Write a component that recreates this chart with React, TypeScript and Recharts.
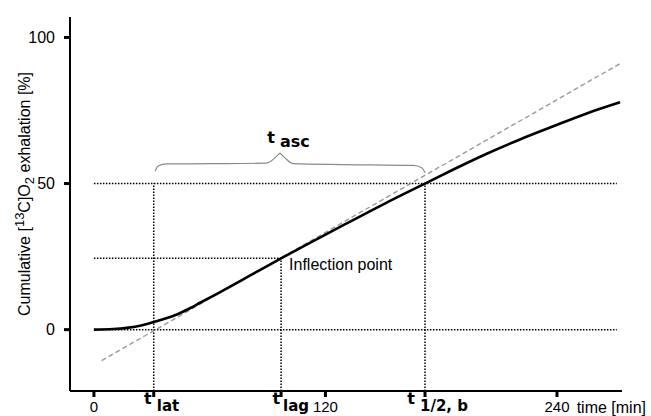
import React from 'react';
import { ComposedChart, Line, XAxis, YAxis, ReferenceLine, ReferenceDot } from 'recharts';

// cumulative exhalation curve (time in min, value in %)
const curveTime = [0, 10, 17, 25, 31, 37, 43, 50, 55, 65, 76, 86, 97, 110, 130, 150, 171.6, 186.3, 203.6, 220.8, 238.1, 255.4, 272.7];
const curveValue = [0, 0.2, 0.6, 1.5, 2.6, 3.8, 5.2, 7.4, 9.2, 12.7, 16.7, 20.4, 24.4, 29.0, 36.0, 42.9, 50, 54.8, 60.2, 65.1, 69.6, 74.0, 77.8];

// tangent through the inflection point
const tangentTime = [4, 273.6];
const tangentValue = [-10.6, 91.4];

// characteristic times
const tLat = 31;
const tLag = 97;
const tHalf = 171.6;
const inflectionValue = 24.4;
const halfValue = 50;
const guideEnd = 271;

// curly brace over t_asc
const braceLeftTime = [31.7, 33.3, 37.7, 60, 89.5, 93.8, 96.4];
const braceLeftValue = [54.2, 56.0, 56.7, 56.8, 57.0, 58.8, 60.5];
const braceRightTime = [96.4, 99, 103.3, 130, 165.5, 169.9, 171.6];
const braceRightValue = [60.5, 58.8, 56.8, 56.5, 56.2, 55.4, 53.7];

const xTicks = [0, tLat, tLag, 120, tHalf, 240];
const yTicks = [0, 50, 100];

const toPoints = (xs: number[], ys: number[]) => xs.map((x, i) => ({ x, y: ys[i] }));

const curveData = toPoints(curveTime, curveValue);
const tangentData = toPoints(tangentTime, tangentValue);
const braceLeft = toPoints(braceLeftTime, braceLeftValue);
const braceRight = toPoints(braceRightTime, braceRightValue);

const FONT = 'Arial, "Liberation Sans", sans-serif';
const BOLD = '"DejaVu Sans", sans-serif';
const dotted = { stroke: '#000', strokeWidth: 1.5, strokeDasharray: '1.5 1.5' };

const XTick = (props: any) => {
  const { x, y, payload } = props;
  const v = payload.value;
  const sub = (tx: number, dx: number, label: string, tEnd: number) => (
    <g>
      <text x={tx + tEnd} y={y + 7} textAnchor="end" fontFamily={BOLD} fontWeight="bold" fontSize={16} fill="#000">t</text>
      <text x={tx + dx} y={y + 14} fontFamily={BOLD} fontWeight="bold" fontSize={15} fill="#000">{label}</text>
    </g>
  );
  if (v === tLat) return sub(x, 3, 'lat', -2);
  if (v === tLag) return sub(x, 2, 'lag', -1);
  if (v === tHalf) return sub(x, -5, '1/2, b', -10);
  return (
    <text x={x} y={y + 15} textAnchor="middle" fontFamily={FONT} fontSize={15} fill="#000">{v}</text>
  );
};

const YLabel = (props: any) => {
  const { viewBox } = props;
  const bx = viewBox.x + 30;
  const cy = viewBox.y + viewBox.height / 2 - 10;
  return (
    <text transform={`rotate(-90, ${bx}, ${cy})`} x={bx} y={cy} textAnchor="middle" fontFamily={FONT} fontSize={16} fill="#000">
      Cumulative [<tspan dy={-6} fontSize={13}>13</tspan><tspan dy={6}>C]O</tspan>
      <tspan dy={4} fontSize={13}>2</tspan><tspan dy={-4}> exhalation [%]</tspan>
    </text>
  );
};

const XLabel = (props: any) => {
  const { viewBox } = props;
  return (
    <text x={viewBox.x + viewBox.width + 24} y={413} textAnchor="end" fontFamily={FONT} fontSize={16} fill="#000">
      time [min]
    </text>
  );
};

const InflectionLabel = (props: any) => {
  const { viewBox } = props;
  return (
    <text x={viewBox.x + 8} y={viewBox.y + 12} fontFamily={FONT} fontSize={16} fill="#000">Inflection point</text>
  );
};

const AscLabel = (props: any) => {
  const { viewBox } = props;
  return (
    <g>
      <text x={viewBox.x - 5} y={viewBox.y - 10} textAnchor="end" fontFamily={BOLD} fontWeight="bold" fontSize={16} fill="#000">t</text>
      <text x={viewBox.x} y={viewBox.y - 6} fontFamily={BOLD} fontWeight="bold" fontSize={16} fill="#000">asc</text>
    </g>
  );
};

export default function App() {
  return (
    <div style={{ position: 'absolute', left: 0, top: 0, background: '#fff' }}>
      <ComposedChart width={651} height={416} margin={{ top: 17, right: 29, left: 0, bottom: 0 }}>
        <XAxis
          type="number"
          dataKey="x"
          domain={[-12.4, 273.7]}
          allowDataOverflow
          ticks={xTicks}
          interval={0}
          height={25}
          tickSize={6}
          tickMargin={0}
          tick={<XTick />}
          axisLine={{ stroke: '#000', strokeWidth: 2 }}
          tickLine={{ stroke: '#000', strokeWidth: 3 }}
          label={{ content: <XLabel /> }}
        />
        <YAxis
          type="number"
          dataKey="y"
          domain={[-21, 107]}
          allowDataOverflow
          ticks={yTicks}
          interval={0}
          width={70}
          tickSize={6}
          tickMargin={9}
          tick={{ fill: '#000', fontSize: 16, fontFamily: FONT }}
          axisLine={{ stroke: '#000', strokeWidth: 2 }}
          tickLine={{ stroke: '#000', strokeWidth: 3 }}
          label={{ content: <YLabel /> }}
        />

        <ReferenceLine segment={[{ x: 0, y: 0 }, { x: guideEnd, y: 0 }]} {...dotted} ifOverflow="visible" />
        <ReferenceLine segment={[{ x: 0, y: halfValue }, { x: guideEnd, y: halfValue }]} {...dotted} ifOverflow="visible" />
        <ReferenceLine segment={[{ x: 0, y: inflectionValue }, { x: tLag, y: inflectionValue }]} {...dotted} ifOverflow="visible" />
        <ReferenceLine segment={[{ x: tLat, y: -21 }, { x: tLat, y: halfValue }]} {...dotted} ifOverflow="visible" />
        <ReferenceLine segment={[{ x: tLag, y: -21 }, { x: tLag, y: inflectionValue }]} {...dotted} ifOverflow="visible" />
        <ReferenceLine segment={[{ x: tHalf, y: -21 }, { x: tHalf, y: halfValue }]} {...dotted} ifOverflow="visible" />

        <Line data={tangentData} dataKey="y" type="linear" stroke="#9a9a9a" strokeWidth={1.4} strokeDasharray="5 3" dot={false} isAnimationActive={false} />
        <Line data={curveData} dataKey="y" type="monotone" stroke="#000" strokeWidth={2.6} dot={false} isAnimationActive={false} />
        <Line data={braceLeft} dataKey="y" type="monotone" stroke="#8a8a8a" strokeWidth={1.2} dot={false} isAnimationActive={false} />
        <Line data={braceRight} dataKey="y" type="monotone" stroke="#8a8a8a" strokeWidth={1.2} dot={false} isAnimationActive={false} />

        <ReferenceDot x={tLag} y={inflectionValue} r={0} fill="none" stroke="none" label={{ content: <InflectionLabel /> }} />
        <ReferenceDot x={braceLeftTime[braceLeftTime.length - 1]} y={braceLeftValue[braceLeftValue.length - 1]} r={0} fill="none" stroke="none" label={{ content: <AscLabel /> }} />
      </ComposedChart>
    </div>
  );
}
